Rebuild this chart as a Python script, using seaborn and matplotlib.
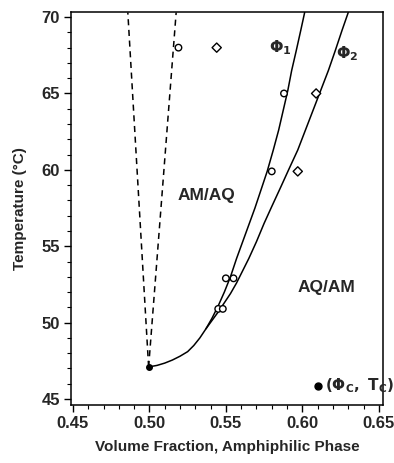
import numpy as np
import pandas as pd
import seaborn as sns
import matplotlib
matplotlib.use("Agg")
import matplotlib.pyplot as plt
from matplotlib.ticker import MultipleLocator

# critical point
phi_c = 0.4995
T_c = 47.1

# measured coexistence points
meas_x = [0.519, 0.544, 0.545, 0.548, 0.550, 0.555, 0.580, 0.597, 0.588, 0.609]
meas_T = [68.0, 68.0, 50.9, 50.9, 52.9, 52.9, 59.9, 59.9, 65.0, 65.0]
meas_kind = ['o', 'D', 'o', 'o', 'o', 'o', 'o', 'D', 'o', 'D']

# phi_1 branch (traced)
b1_x = [0.4995, 0.505, 0.510, 0.515, 0.520, 0.525, 0.529, 0.533, 0.537, 0.541,
        0.545, 0.549, 0.553, 0.557, 0.561, 0.565, 0.569, 0.573, 0.577, 0.581,
        0.5845, 0.5875, 0.5905, 0.593, 0.596, 0.599, 0.6015]
b1_T = [47.1, 47.2, 47.35, 47.55, 47.8, 48.1, 48.5, 49.0, 49.6, 50.3,
        51.1, 52.0, 53.0, 54.2, 55.3, 56.4, 57.5, 58.7, 59.9, 61.3,
        62.6, 63.9, 65.2, 66.5, 67.8, 69.15, 70.3]

# phi_2 branch (traced)
b2_x = [0.537, 0.541, 0.545, 0.549, 0.553, 0.557, 0.561, 0.565, 0.570, 0.575,
        0.580, 0.586, 0.591, 0.597, 0.602, 0.607, 0.612, 0.617, 0.6215, 0.626, 0.630]
b2_T = [49.6, 50.15, 50.7, 51.3, 51.9, 52.6, 53.4, 54.2, 55.3, 56.5,
        57.6, 58.9, 60.0, 61.3, 62.6, 63.9, 65.2, 66.5, 67.8, 69.15, 70.3]

# dashed boundaries from the critical point
d1_x = [0.4995, 0.4859]
d1_T = [47.1, 70.3]
d2_x = [0.4995, 0.5175]
d2_T = [47.1, 70.3]

sns.set_style("ticks")
plt.rcParams['font.family'] = ['Liberation Sans', 'DejaVu Sans']
plt.rcParams['font.weight'] = 'bold'

fig = plt.figure(figsize=(3.94, 4.63), dpi=100)
ax = fig.add_axes([0.180, 0.125, 0.792, 0.849])

b1 = pd.DataFrame({'x': b1_x, 'T': b1_T})
b2 = pd.DataFrame({'x': b2_x, 'T': b2_T})
sns.lineplot(data=b1, x='x', y='T', sort=False, color='black', lw=1.1, ax=ax)
sns.lineplot(data=b2, x='x', y='T', sort=False, color='black', lw=1.1, ax=ax)
for dx, dT in [(d1_x, d1_T), (d2_x, d2_T)]:
    sns.lineplot(x=dx, y=dT, sort=False, color='black', lw=1.1,
                 linestyle=(0, (4, 3)), ax=ax)

meas = pd.DataFrame({'x': meas_x, 'T': meas_T, 'kind': meas_kind})
sns.scatterplot(data=meas, x='x', y='T', style='kind', markers={'o': 'o', 'D': 'D'},
                s=22, facecolor='white', edgecolor='black', linewidth=1.0,
                legend=False, ax=ax, zorder=3)
ax.plot([phi_c], [T_c], 'o', color='black', ms=4, zorder=4)
ax.plot([0.6105], [45.85], 'o', color='black', ms=5, zorder=4)

ax.text(0.537, 58.3, 'AM/AQ', fontsize=12.5, fontweight='bold', ha='center', va='center')
ax.text(0.616, 52.3, 'AQ/AM', fontsize=12.5, fontweight='bold', ha='center', va='center')
ax.text(0.5855, 68.0, r'$\mathbf{\Phi}_{\mathbf{1}}$', fontsize=11.5, ha='center', va='center')
ax.text(0.6295, 67.6, r'$\mathbf{\Phi}_{\mathbf{2}}$', fontsize=11.5, ha='center', va='center')
ax.text(0.6145, 45.9, r'$\mathbf{(\Phi_C,\ T_C)}$', fontsize=11, ha='left', va='center')

ax.set_xlim(0.4487, 0.6527)
ax.set_ylim(44.6, 70.33)
ax.xaxis.set_major_locator(MultipleLocator(0.05))
ax.xaxis.set_minor_locator(MultipleLocator(0.01))
ax.yaxis.set_major_locator(MultipleLocator(5))
ax.yaxis.set_minor_locator(MultipleLocator(1))
ax.set_xticks([0.45, 0.50, 0.55, 0.60, 0.65])
ax.set_xticklabels(['0.45', '0.50', '0.55', '0.60', '0.65'])
ax.tick_params(which='major', length=5, width=1, labelsize=12, color='black', pad=3)
ax.tick_params(which='minor', length=3, width=0.8, color='black')
for lab in ax.get_xticklabels() + ax.get_yticklabels():
    lab.set_fontweight('bold')
for sp in ax.spines.values():
    sp.set_linewidth(1.1)
    sp.set_color('black')
    sp.set_visible(True)

ax.set_xlabel('Volume Fraction, Amphiphilic Phase', fontsize=11, fontweight='bold', labelpad=6)
ax.set_ylabel('Temperature (°C)', fontsize=11, fontweight='bold', labelpad=10)

fig.savefig('out.png', dpi=100)
